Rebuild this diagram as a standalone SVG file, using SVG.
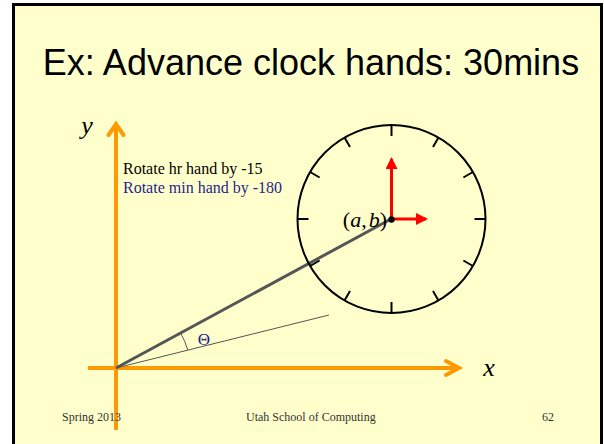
<svg xmlns="http://www.w3.org/2000/svg" width="604" height="444" viewBox="0 0 604 444">
<defs>
<style>
.axis{stroke:#FF9900;stroke-width:4;fill:none;stroke-linecap:butt}
.head{stroke:#FF9900;stroke-width:4;fill:none;stroke-linecap:round;stroke-linejoin:miter}
.tick{stroke:#000;stroke-width:2}
.red{stroke:#FF0000;stroke-width:3;fill:none}
.times{font-family:"Liberation Serif","Times New Roman",serif}
.foot{font-family:"Liberation Serif","Times New Roman",serif;font-size:12px;fill:#333}
</style>
<linearGradient id="ul" x1="0" x2="1" y1="0" y2="0">
<stop offset="0" stop-color="#333"/>
<stop offset="1" stop-color="#999"/>
</linearGradient>
<marker id="redhead" markerWidth="12" markerHeight="12" refX="10" refY="6" orient="auto" markerUnits="userSpaceOnUse">
<path d="M0,0 L12,6 L0,12 Z" fill="#FF0000"/>
</marker>
</defs>
<rect x="0" y="0" width="604" height="444" fill="#fff"/>
<rect id="slide" x="13.5" y="4.5" width="588" height="470" fill="#FFFFCC" stroke="#000" stroke-width="3"/>
<g id="title">
<text x="311" y="75" text-anchor="middle" font-family="'Liberation Sans',Arial,sans-serif" font-size="36" fill="#000">Ex: Advance clock hands: 30mins</text>
<line x1="112" y1="88" x2="519" y2="88" stroke="url(#ul)" stroke-width="2"/>
</g>
<g id="connectors">
<line class="axis" x1="116" y1="430" x2="116" y2="126"/>
<polyline class="head" points="108.5,135 116,124 123.5,135"/>
<line class="axis" x1="88" y1="368" x2="458" y2="368"/>
<polyline class="head" points="446,361 459,368 446,375"/>
<line x1="116" y1="368" x2="391" y2="219" stroke="#555" stroke-width="3"/>
<line x1="116" y1="368" x2="329" y2="315" stroke="#555" stroke-width="1"/>
<path d="M180.5,333 A74,74 0 0 1 187.8,350.1" fill="none" stroke="#555" stroke-width="1"/>
</g>
<g id="clock">
<circle cx="391.5" cy="219" r="94" fill="none" stroke="#000" stroke-width="2"/>
<g transform="translate(391.5,219)">
<line class="tick" x1="0" y1="-94" x2="0" y2="-83"/>
<line class="tick" x1="0" y1="-94" x2="0" y2="-83" transform="rotate(30)"/>
<line class="tick" x1="0" y1="-94" x2="0" y2="-83" transform="rotate(60)"/>
<line class="tick" x1="0" y1="-94" x2="0" y2="-83" transform="rotate(90)"/>
<line class="tick" x1="0" y1="-94" x2="0" y2="-83" transform="rotate(120)"/>
<line class="tick" x1="0" y1="-94" x2="0" y2="-83" transform="rotate(150)"/>
<line class="tick" x1="0" y1="-94" x2="0" y2="-83" transform="rotate(180)"/>
<line class="tick" x1="0" y1="-94" x2="0" y2="-83" transform="rotate(210)"/>
<line class="tick" x1="0" y1="-94" x2="0" y2="-83" transform="rotate(240)"/>
<line class="tick" x1="0" y1="-94" x2="0" y2="-83" transform="rotate(270)"/>
<line class="tick" x1="0" y1="-94" x2="0" y2="-83" transform="rotate(300)"/>
<line class="tick" x1="0" y1="-94" x2="0" y2="-83" transform="rotate(330)"/>
</g>
</g>
<g id="hands">
<line class="red" x1="391.5" y1="219" x2="391.5" y2="159" marker-end="url(#redhead)"/>
<line class="red" x1="391.5" y1="219" x2="426" y2="219" marker-end="url(#redhead)"/>
<circle cx="391.5" cy="219.5" r="3.2" fill="#000"/>
</g>
<g id="labels">
<text class="times" x="87" y="134" font-size="26" font-style="italic" text-anchor="middle" fill="#000">y</text>
<text class="times" x="489" y="376" font-size="26" font-style="italic" text-anchor="middle" fill="#000">x</text>
<text class="times" x="123" y="174" font-size="16" fill="#000">Rotate hr hand by -15</text>
<text class="times" x="123" y="193" font-size="16" fill="#1F1F8C">Rotate min hand by -180</text>
<text class="times" x="387" y="227" font-size="22" text-anchor="end" fill="#000">(<tspan font-style="italic">a</tspan>,<tspan dx="2" font-style="italic">b</tspan>)</text>
<text class="times" x="204" y="345" font-size="17" text-anchor="middle" fill="#1F1F8C">Θ</text>
</g>
<g id="footer">
<text class="foot" x="62" y="421">Spring 2013</text>
<text class="foot" x="246" y="421">Utah School of Computing</text>
<text class="foot" x="542" y="421">62</text>
</g>
</svg>
